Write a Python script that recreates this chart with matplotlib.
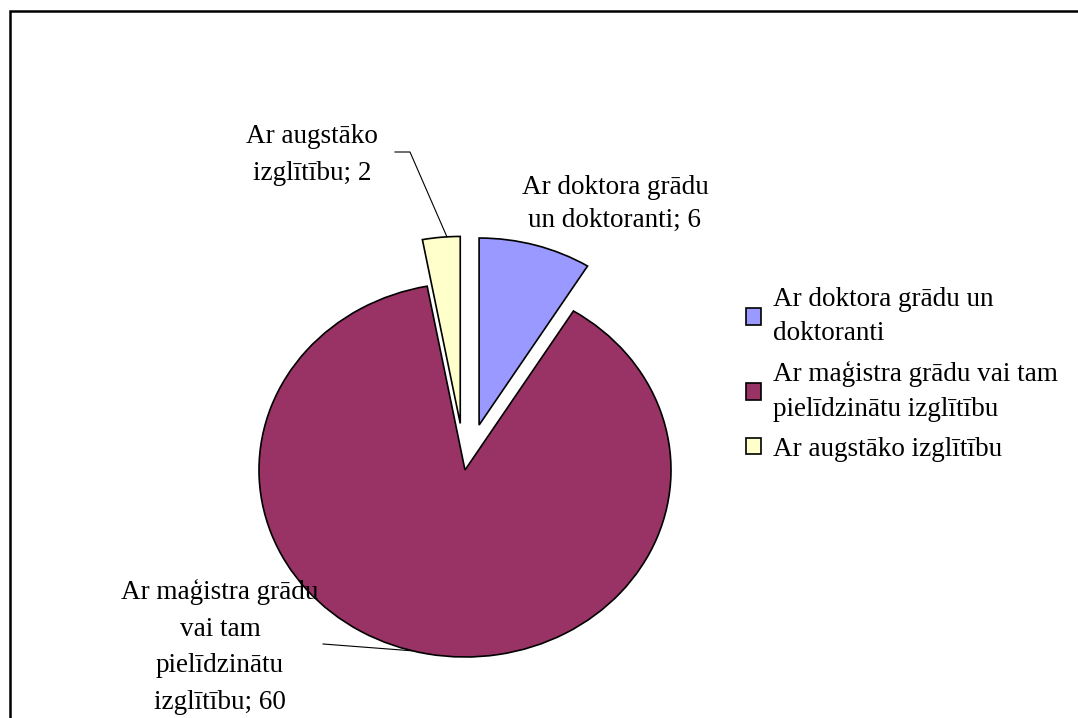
import numpy as np
import matplotlib
matplotlib.use('Agg')
import matplotlib.pyplot as plt
from matplotlib.patches import Rectangle

plt.rcParams['font.family'] = ['Liberation Serif', 'DejaVu Serif']

# --- data ---
categories = ['Ar doktora grādu un\ndoktoranti',
              'Ar maģistra grādu vai tam\npielīdzinātu izglītību',
              'Ar augstāko izglītību']
values = [6, 60, 2]
slice_labels = ['Ar doktora grādu\nun doktoranti',
                'Ar maģistra grādu\nvai tam\npielīdzinātu\nizglītību',
                'Ar augstāko\nizglītību']
colors = ['#9999FF', '#993366', '#FFFFCC']
explode = [0.25, 0, 0.25]

W, H = 1078, 718
fig = plt.figure(figsize=(W / 100, H / 100), dpi=100)
ax = fig.add_axes([0, 0, 1, 1])

# pie centre / radii in pixels (the original chart is slightly stretched)
cx, cy, rx, ry = 465, 470, 206, 187


def to_data(px, py):
    return (px - cx) / rx, (cy - py) / ry


wedges, _ = ax.pie(values, colors=colors, explode=explode, startangle=90,
                   counterclock=False,
                   wedgeprops=dict(edgecolor='black', linewidth=1.2))
ax.set_aspect('auto')
ax.set_xlim((0 - cx) / rx, (W - cx) / rx)
ax.set_ylim((cy - H) / ry, (cy - 0) / ry)
ax.axis('off')

fs = 19.5


def edge_point(w, frac):
    # point on the outer arc of wedge w, frac along its angular span
    ang = np.deg2rad(w.theta1 + frac * (w.theta2 - w.theta1))
    x0, y0 = w.center
    return x0 + w.r * np.cos(ang), y0 + w.r * np.sin(ang)


# doktora label (no leader)
tx, ty = to_data(615, 204)
ax.text(tx, ty, f'{slice_labels[0]}; {values[0]}', ha='center', va='center',
        fontsize=fs, linespacing=1.45)

# augstako label with leader
tx, ty = to_data(312, 155)
ax.text(tx, ty, f'{slice_labels[2]}; {values[2]}', ha='center', va='center',
        fontsize=fs, linespacing=1.6)
ex, ey = edge_point(wedges[2], 0.35)
e1 = to_data(395, 152)
e2 = to_data(410, 152)
ax.plot([e1[0], e2[0], ex], [e1[1], e2[1], ey], color='black', lw=0.8)

# magistra label with leader
tx, ty = to_data(220, 647)
ax.text(tx, ty, f'{slice_labels[1]}; {values[1]}', ha='center', va='center',
        fontsize=fs, linespacing=1.6)
ex, ey = edge_point(wedges[1], 0.487)
s = to_data(323, 644)
ax.plot([s[0], ex], [s[1], ey], color='black', lw=0.8)

# legend
leg = fig.legend(wedges, categories,
                 loc='upper left', bbox_to_anchor=(735 / W, 1 - 276 / H),
                 frameon=False, fontsize=fs, handlelength=0.55, handleheight=0.55,
                 handletextpad=0.45, labelspacing=0.55, borderaxespad=0)
for t in leg.get_texts():
    t.set_linespacing(1.5)

# outer frame (left and top edges visible)
fig.add_artist(Rectangle((9.5 / W, -0.1), 1.2, 1.1 - 11 / H,
                         transform=fig.transFigure, fill=False,
                         edgecolor='black', linewidth=1.8))

fig.savefig('out.png', dpi=100)
